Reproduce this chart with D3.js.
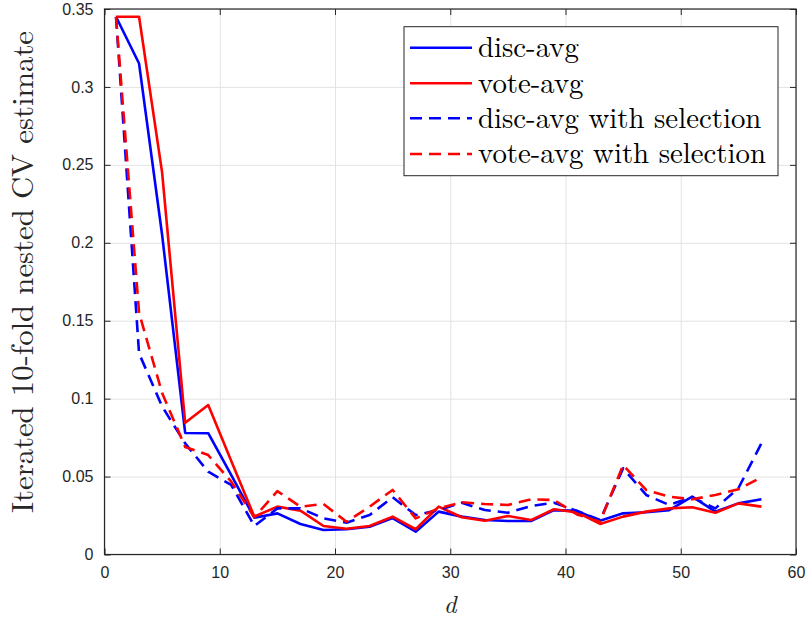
<!DOCTYPE html>
<html>
<head>
<meta charset="utf-8">
<script src="https://cdn.jsdelivr.net/npm/d3@7"></script>
<style>
  body { margin: 0; background: #fff; }
</style>
</head>
<body>
<svg id="chart" width="807" height="626"></svg>
<script>
// d values (odd dimensions)
const dims = [1,3,5,7,9,11,13,15,17,19,21,23,25,27,29,31,33,35,37,39,41,43,45,47,49,51,53,55,57];

const discAvg = [0.345, 0.315, 0.205, 0.078, 0.0778, 0.051, 0.0236, 0.0264, 0.0196, 0.0157,
  0.0162, 0.0178, 0.0234, 0.0146, 0.0275, 0.0243, 0.0221, 0.0215, 0.0215, 0.0285,
  0.028, 0.0217, 0.0264, 0.0271, 0.0285, 0.0371, 0.0275, 0.0328, 0.0354];

const voteAvg = [0.345, 0.345, 0.245, 0.0845, 0.0959, 0.060, 0.0243, 0.0307, 0.0281, 0.0183,
  0.0165, 0.0183, 0.0243, 0.0162, 0.0307, 0.0239, 0.0217, 0.0247, 0.0221, 0.029,
  0.027, 0.0196, 0.0243, 0.0275, 0.0296, 0.0303, 0.0268, 0.0328, 0.0307];

const discSel = [0.345, 0.129, 0.095, 0.0713, 0.0531, 0.0446, 0.0183, 0.0296, 0.0296, 0.0232,
  0.0204, 0.0253, 0.0367, 0.0253, 0.0285, 0.0332, 0.0285, 0.0268, 0.0311, 0.0332,
  0.028, 0.0221, 0.0553, 0.0382, 0.0318, 0.0367, 0.0296, 0.0425, 0.0713];

const voteSel = [0.345, 0.155, 0.1036, 0.069, 0.0638, 0.0467, 0.0239, 0.0407, 0.0307, 0.0324,
  0.021, 0.0307, 0.0414, 0.0232, 0.0296, 0.0335, 0.0324, 0.0318, 0.0354, 0.035,
  0.0257, 0.021, 0.0574, 0.0414, 0.0371, 0.0354, 0.0382, 0.0418, 0.0495];

const xTicks = [0, 10, 20, 30, 40, 50, 60];
const yTicks = [0, 0.05, 0.1, 0.15, 0.2, 0.25, 0.3, 0.35];

const series = [
  { name: "disc-avg", values: discAvg, color: "#0000ff", dash: null },
  { name: "vote-avg", values: voteAvg, color: "#ff0000", dash: null },
  { name: "disc-avg with selection", values: discSel, color: "#0000ff", dash: "12,7" },
  { name: "vote-avg with selection", values: voteSel, color: "#ff0000", dash: "12,7" }
];

const serif = "Latin Modern Roman, CMU Serif, Liberation Serif, serif";
const sans = "Liberation Sans, Arial, sans-serif";

const margin = { top: 9, right: 11, bottom: 71.5, left: 104.5 };
const width = 807 - margin.left - margin.right;
const height = 626 - margin.top - margin.bottom;

const svg = d3.select("#chart")
  .append("g")
  .attr("transform", `translate(${margin.left},${margin.top})`);

const x = d3.scaleLinear().domain([0, 60]).range([0, width]);
const y = d3.scaleLinear().domain([0, 0.35]).range([height, 0]);

// gridlines
svg.append("g")
  .attr("transform", `translate(0,${height})`)
  .call(d3.axisBottom(x).tickValues(xTicks).tickSize(-height).tickFormat(""))
  .call(g => g.select(".domain").remove())
  .call(g => g.selectAll("line").attr("stroke", "#e3e3e3").attr("stroke-width", 1));

svg.append("g")
  .call(d3.axisLeft(y).tickValues(yTicks).tickSize(-width).tickFormat(""))
  .call(g => g.select(".domain").remove())
  .call(g => g.selectAll("line").attr("stroke", "#e3e3e3").attr("stroke-width", 1));

// lines
const line = d3.line()
  .x((d, i) => x(dims[i]))
  .y(d => y(d));

series.forEach(s => {
  svg.append("path")
    .datum(s.values)
    .attr("fill", "none")
    .attr("stroke", s.color)
    .attr("stroke-width", 2.6)
    .attr("stroke-linejoin", "round")
    .attr("stroke-dasharray", s.dash)
    .attr("d", line);
});

// axes with inward ticks
const axisColor = "#262626";
const tickLen = 6;

const styleTicks = g => {
  g.select(".domain").remove();
  g.selectAll("line").attr("stroke", axisColor);
  g.selectAll("text").attr("font-family", sans).attr("font-size", 16).attr("fill", axisColor);
};

svg.append("g")
  .attr("transform", `translate(0,${height})`)
  .call(d3.axisBottom(x).tickValues(xTicks).tickSizeInner(-tickLen).tickSizeOuter(0).tickPadding(12).tickFormat(d3.format("d")))
  .call(styleTicks);

svg.append("g")
  .call(d3.axisTop(x).tickValues(xTicks).tickSizeInner(-tickLen).tickSizeOuter(0).tickFormat(""))
  .call(styleTicks);

svg.append("g")
  .call(d3.axisLeft(y).tickValues(yTicks).tickSizeInner(-tickLen).tickSizeOuter(0).tickPadding(11).tickFormat(d => d === 0 ? "0" : String(+d.toFixed(2))))
  .call(styleTicks);

svg.append("g")
  .attr("transform", `translate(${width},0)`)
  .call(d3.axisRight(y).tickValues(yTicks).tickSizeInner(-tickLen).tickSizeOuter(0).tickFormat(""))
  .call(styleTicks);

svg.append("rect")
  .attr("width", width)
  .attr("height", height)
  .attr("fill", "none")
  .attr("stroke", axisColor)
  .attr("stroke-width", 1.2);

// fit a text element's font size to a target width
function fitWidth(sel, target) {
  const fs = parseFloat(sel.attr("font-size"));
  const w = sel.node().getComputedTextLength();
  const nfs = fs * target / w;
  sel.attr("font-size", nfs.toFixed(2));
  return nfs;
}

// axis titles
svg.append("text")
  .attr("x", width / 2)
  .attr("y", height + 58)
  .attr("text-anchor", "middle")
  .attr("font-family", serif)
  .attr("font-style", "italic")
  .attr("font-size", 25)
  .attr("fill", "#262626")
  .text("d");

const yTitle = svg.append("text")
  .attr("transform", `translate(${-72},${272 - margin.top}) rotate(-90)`)
  .attr("text-anchor", "middle")
  .attr("font-family", serif)
  .attr("font-size", 22)
  .attr("fill", "#262626")
  .text("Iterated 10-fold nested CV estimate");
fitWidth(yTitle, 482);

// legend
const lg = svg.append("g")
  .attr("transform", `translate(${404 - margin.left},${26.7 - margin.top})`);

lg.append("rect")
  .attr("width", 374)
  .attr("height", 149)
  .attr("fill", "#fff")
  .attr("stroke", axisColor)
  .attr("stroke-width", 1);

const rowY = [21, 56.6, 91.6, 127.3];
const labels = [];
series.forEach((s, i) => {
  lg.append("line")
    .attr("x1", 6).attr("x2", 68)
    .attr("y1", rowY[i]).attr("y2", rowY[i])
    .attr("stroke", s.color)
    .attr("stroke-width", 2.6)
    .attr("stroke-dasharray", s.dash);
  labels.push(lg.append("text")
    .attr("x", 74)
    .attr("y", rowY[i])
    .attr("dy", "0.32em")
    .attr("font-family", serif)
    .attr("font-size", 22)
    .attr("fill", "#000")
    .text(s.name));
});
// size legend text so the longest entry fills the box like the original
const legendFs = fitWidth(labels[3], 288);
labels.forEach(t => t.attr("font-size", legendFs.toFixed(2)));
</script>
</body>
</html>
